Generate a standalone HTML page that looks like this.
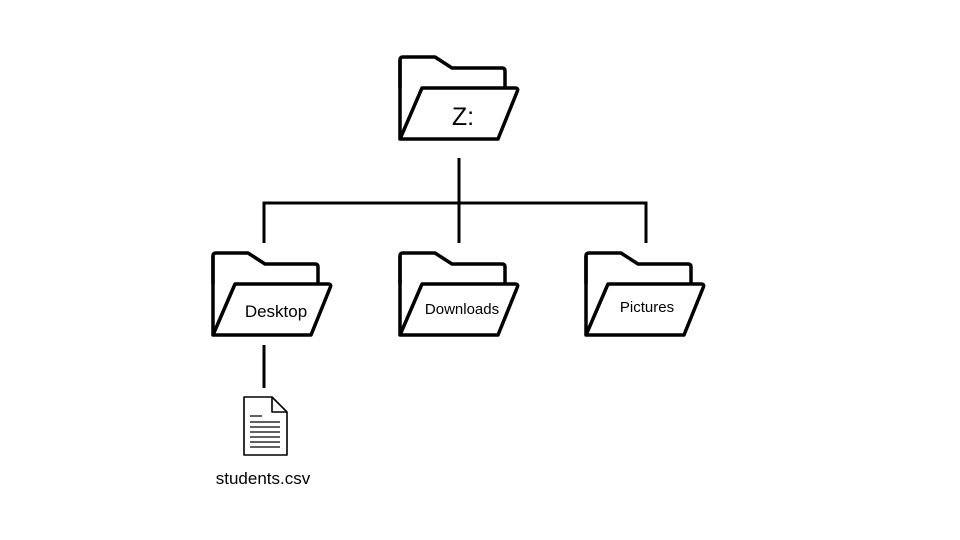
<!DOCTYPE html>
<html><head><meta charset="utf-8"><style>
html,body{margin:0;padding:0;background:#fff;}
svg{display:block;}
text{font-family:"Liberation Sans",sans-serif;fill:#000;}
</style></head><body>
<svg width="960" height="540" viewBox="0 0 960 540" xmlns="http://www.w3.org/2000/svg">
<defs>
<g id="folder" fill="#fff" stroke="#000" stroke-width="3.5" stroke-linejoin="round">
<path d="M0,88 L0,60 Q0,57 3,57 L35,57 L52,68 L102,68 Q105,68 105,71 L105,88"/>
<path d="M0,60 L0,139"/>
<path d="M22,88 L115,88 Q119,88 117,92 L98,139 L0,139 Z"/>
</g>
</defs>
<g stroke="#000" stroke-width="3" fill="none">
<path d="M459,158 V243 M264,243 V203 H646 V243 M264,345 V388"/>
</g>
<use href="#folder" x="400" y="0"/>
<use href="#folder" x="213" y="196"/>
<use href="#folder" x="400" y="196"/>
<use href="#folder" x="586" y="196"/>
<text x="463" y="125" font-size="25" text-anchor="middle">Z:</text>
<text x="276" y="317" font-size="17" text-anchor="middle">Desktop</text>
<text x="462" y="314" font-size="15" text-anchor="middle">Downloads</text>
<text x="647" y="312" font-size="15" text-anchor="middle">Pictures</text>
<g stroke="#000" stroke-width="1.6" fill="#fff" stroke-linejoin="round">
<path d="M244,397 H272 L287,412 V455 H244 Z"/>
<path d="M272,397 V412 H287" fill="none"/>
<path d="M250,416 H262 M250,422 H280 M250,427 H280 M250,432 H280 M250,437 H280 M250,442 H280 M250,447 H280" fill="none" stroke-width="1.3"/>
</g>
<text x="263" y="484" font-size="17" text-anchor="middle">students.csv</text>
</svg>
</body></html>
